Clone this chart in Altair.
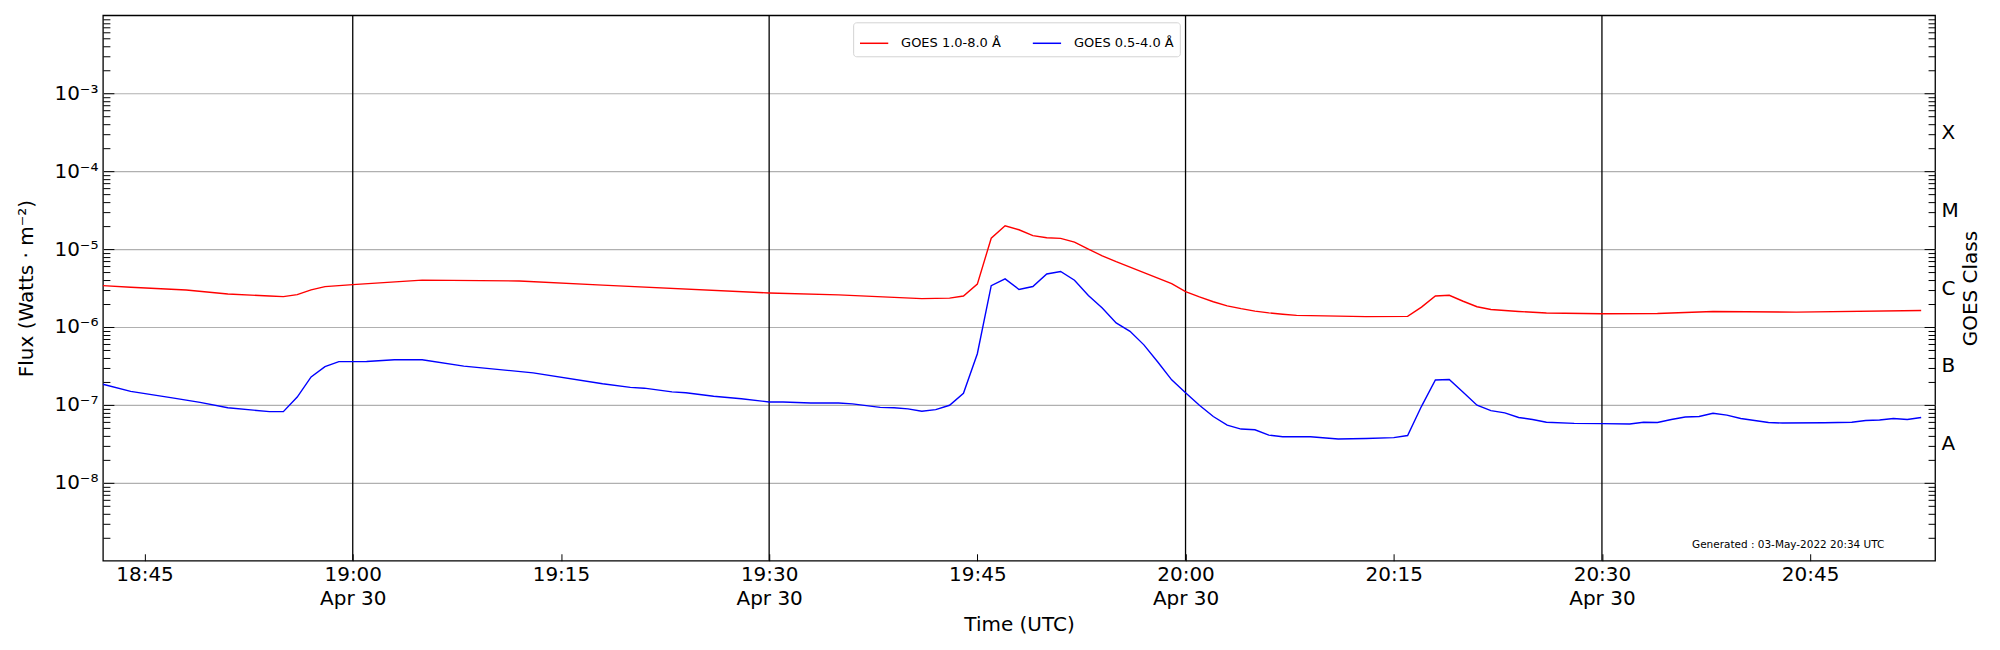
import altair as alt
import pandas as pd

DAY = "2022-04-30"

# GOES 1.0-8.0 Å (long channel)
red_times = ["18:42", "18:44", "18:48", "18:51", "18:54", "18:55", "18:56", "18:57", "18:58",
             "19:00", "19:05", "19:12", "19:18", "19:30", "19:35", "19:41", "19:43", "19:44",
             "19:45", "19:46", "19:47", "19:48", "19:49", "19:50", "19:51", "19:52", "19:53",
             "19:54", "19:55", "19:57", "19:59", "20:00", "20:01", "20:02", "20:03", "20:04",
             "20:05", "20:06", "20:07", "20:08", "20:13", "20:16", "20:17", "20:18", "20:19",
             "20:20", "20:21", "20:22", "20:24", "20:26", "20:30", "20:34", "20:38", "20:44",
             "20:53"]
red_flux = [3.4e-6, 3.24e-6, 2.98e-6, 2.65e-6, 2.5e-6, 2.45e-6, 2.6e-6, 3.0e-6, 3.3e-6,
            3.5e-6, 4.0e-6, 3.9e-6, 3.45e-6, 2.73e-6, 2.58e-6, 2.31e-6, 2.35e-6, 2.5e-6,
            3.55e-6, 1.38e-5, 1.99e-5, 1.77e-5, 1.49e-5, 1.40e-5, 1.37e-5, 1.23e-5, 1.0e-5,
            8.2e-6, 6.9e-6, 5.0e-6, 3.6e-6, 2.84e-6, 2.43e-6, 2.11e-6, 1.87e-6, 1.72e-6,
            1.6e-6, 1.52e-6, 1.46e-6, 1.41e-6, 1.36e-6, 1.37e-6, 1.8e-6, 2.5e-6, 2.55e-6,
            2.14e-6, 1.82e-6, 1.68e-6, 1.58e-6, 1.51e-6, 1.48e-6, 1.49e-6, 1.58e-6, 1.55e-6,
            1.63e-6]

# GOES 0.5-4.0 Å (short channel)
blue_times = ["18:42", "18:44", "18:47", "18:49", "18:51", "18:54", "18:55", "18:56", "18:57",
              "18:58", "18:59", "19:01", "19:03", "19:05", "19:08", "19:13", "19:18", "19:20",
              "19:21", "19:23", "19:24", "19:26", "19:28", "19:30", "19:31", "19:33", "19:35",
              "19:36", "19:38", "19:39", "19:40", "19:41", "19:42", "19:43", "19:44", "19:45",
              "19:46", "19:47", "19:48", "19:49", "19:50", "19:51", "19:52", "19:53", "19:54",
              "19:55", "19:56", "19:57", "19:58", "19:59", "20:00", "20:01", "20:02", "20:03",
              "20:04", "20:05", "20:06", "20:07", "20:09", "20:11", "20:13", "20:15", "20:16",
              "20:17", "20:18", "20:19", "20:20", "20:21", "20:22", "20:23", "20:24", "20:25",
              "20:26", "20:28", "20:30", "20:32", "20:33", "20:34", "20:35", "20:36", "20:37",
              "20:38", "20:39", "20:40", "20:41", "20:42", "20:43", "20:46", "20:48", "20:49",
              "20:50", "20:51", "20:52", "20:53"]
blue_flux = [1.84e-7, 1.49e-7, 1.23e-7, 1.08e-7, 9.2e-8, 8.2e-8, 8.2e-8, 1.26e-7, 2.29e-7,
             3.1e-7, 3.59e-7, 3.6e-7, 3.8e-7, 3.8e-7, 3.15e-7, 2.58e-7, 1.87e-7, 1.68e-7,
             1.64e-7, 1.47e-7, 1.43e-7, 1.29e-7, 1.2e-7, 1.09e-7, 1.09e-7, 1.06e-7, 1.06e-7,
             1.03e-7, 9.3e-8, 9.2e-8, 8.9e-8, 8.3e-8, 8.7e-8, 9.9e-8, 1.41e-7, 4.54e-7,
             3.39e-6, 4.15e-6, 3.03e-6, 3.31e-6, 4.79e-6, 5.16e-6, 3.98e-6, 2.54e-6, 1.75e-6,
             1.13e-6, 8.8e-7, 5.9e-7, 3.56e-7, 2.1e-7, 1.43e-7, 9.9e-8, 7.1e-8, 5.5e-8,
             4.9e-8, 4.8e-8, 4.1e-8, 3.9e-8, 3.9e-8, 3.66e-8, 3.7e-8, 3.8e-8, 4.05e-8,
             9.6e-8, 2.09e-7, 2.12e-7, 1.45e-7, 9.9e-8, 8.45e-8, 7.9e-8, 6.9e-8, 6.5e-8,
             6.0e-8, 5.8e-8, 5.75e-8, 5.7e-8, 6.0e-8, 5.95e-8, 6.5e-8, 7.0e-8, 7.1e-8,
             7.8e-8, 7.4e-8, 6.7e-8, 6.3e-8, 5.95e-8, 5.85e-8, 5.9e-8, 6.0e-8, 6.3e-8,
             6.4e-8, 6.7e-8, 6.5e-8, 6.9e-8]

series_names = ["GOES 1.0-8.0 Å", "GOES 0.5-4.0 Å"]
series_colors = ["red", "blue"]

tick_times = ["18:45", "19:00", "19:15", "19:30", "19:45", "20:00", "20:15", "20:30", "20:45"]
vline_times = ["19:00", "19:30", "20:00", "20:30"]
x_start = (18, 42)
x_end = (20, 54)

flux_exponents = [-8, -7, -6, -5, -4, -3]
minor_multipliers = [2, 3, 4, 5, 6, 7, 8, 9]
minor_exponents = [-9, -8, -7, -6, -5, -4, -3]
goes_classes = ["A", "B", "C", "M", "X"]
goes_exponents = [-7.5, -6.5, -5.5, -4.5, -3.5]

generated_text = "Generated : 03-May-2022 20:34 UTC"

W, H = 1834, 546
FONT = "DejaVu Sans"
XTICK = 7
MAJ, MIN = 11, 7


def iso(t):
    return f"{DAY}T{t}:00Z"


def dt(h, m):
    return alt.DateTime(year=2022, month=4, date=30, hours=h, minutes=m, utc=True)


SUP = {"-": "⁻", "0": "⁰", "1": "¹", "2": "²", "3": "³", "4": "⁴",
       "5": "⁵", "6": "⁶", "7": "⁷", "8": "⁸", "9": "⁹"}
flux_labels = ["10" + "".join(SUP[c] for c in str(e)) for e in flux_exponents]

major_vals = [10.0 ** e for e in flux_exponents]
minor_vals = [k * 10.0 ** e for e in minor_exponents for k in minor_multipliers]

lines_df = pd.concat([
    pd.DataFrame({"time": [iso(t) for t in red_times], "flux": red_flux, "series": series_names[0]}),
    pd.DataFrame({"time": [iso(t) for t in blue_times], "flux": blue_flux, "series": series_names[1]}),
])
major_df = pd.DataFrame({"flux": major_vals})
minor_df = pd.DataFrame({"flux": minor_vals})
goes_df = pd.DataFrame({"flux": [10.0 ** e for e in goes_exponents], "cls": goes_classes})
vlines_df = pd.DataFrame({"time": [iso(t) for t in vline_times]})
gen_df = pd.DataFrame({"txt": [generated_text]})

x_scale = alt.Scale(type="utc", domain=[dt(*x_start), dt(*x_end)])
y_scale = alt.Scale(type="log", domain=[1e-9, 1e-2], nice=False)

x_axis = alt.Axis(
    values=[dt(int(t[:2]), int(t[3:])) for t in tick_times],
    labelExpr="utcminutes(datum.value) % 30 == 0 ? [utcFormat(datum.value, '%H:%M'), utcFormat(datum.value, '%b %d')] : utcFormat(datum.value, '%H:%M')",
    ticks=True, tickSize=XTICK, tickColor="black", tickWidth=1, offset=-XTICK,
    domain=False, grid=False,
    labelFontSize=20, labelPadding=4, labelLineHeight=24, labelFont=FONT, labelColor="black",
    labelOverlap=False, labelFlush=False,
    title="Time (UTC)", titleFontSize=20, titleFontWeight="normal", titleFont=FONT,
    titleColor="black", titleX=W / 2, titleY=64 + XTICK, titleBaseline="middle", titleAlign="center",
)

y_axis = alt.Axis(
    values=major_vals,
    labelExpr="[" + ",".join(f"'{s}'" for s in flux_labels) + f"][round(log(datum.value)/LN10) - ({flux_exponents[0]})]",
    ticks=False, domain=False, grid=True, gridColor="#b0b0b0", gridWidth=1.2,
    labelFontSize=20, labelPadding=5, labelFont=FONT, labelColor="black",
    title="Flux (Watts · m⁻²)", titleFontSize=20, titleFontWeight="normal", titleFont=FONT,
    titleColor="black", titleAngle=270, titleX=-76, titleY=H / 2, titleBaseline="middle",
    titleAlign="center",
)

goes_axis = alt.Axis(
    orient="right",
    values=[10.0 ** e for e in goes_exponents],
    labelExpr="[" + ",".join(f"'{s}'" for s in goes_classes) + "][round(log(datum.value)/LN10 + 7.5)]",
    ticks=False, domain=False, grid=False,
    labelFontSize=20, labelPadding=6, labelFont=FONT, labelColor="black",
    title="GOES Class", titleAngle=270, titleFontSize=20, titleFontWeight="normal", titleFont=FONT,
    titleColor="black", titleX=35, titleY=H / 2, titleBaseline="middle", titleAlign="center",
)


def tick_axis(orient, vals, size):
    return alt.Axis(orient=orient, values=vals, offset=-size, tickSize=size, ticks=True,
                    tickColor="black", tickWidth=1, labels=False, domain=False, grid=False,
                    title=None)


lines = alt.Chart(lines_df).mark_line(strokeWidth=1.4, clip=True).encode(
    x=alt.X("time:T", scale=x_scale, axis=x_axis),
    y=alt.Y("flux:Q", scale=y_scale, axis=y_axis),
    color=alt.Color(
        "series:N",
        scale=alt.Scale(domain=series_names, range=series_colors),
        legend=alt.Legend(
            title=None, orient="none", legendX=751, legendY=7, direction="horizontal",
            symbolType="stroke", symbolSize=800, symbolStrokeWidth=1.5,
            labelFontSize=13, labelFont=FONT, labelColor="black", labelOffset=12,
            columnPadding=28, padding=6, fillColor="white", strokeColor="#d3d3d3",
            cornerRadius=3,
        ),
    ),
    detail="series:N",
)

vlines = alt.Chart(vlines_df).mark_rule(color="black", strokeWidth=1.3).encode(
    x=alt.X("time:T", scale=x_scale, axis=x_axis),
)

tick_layers = [
    alt.Chart(df).mark_rule(opacity=0).encode(
        y=alt.Y("flux:Q", scale=y_scale, axis=tick_axis(orient, vals, size)),
        x=alt.value(0), x2=alt.value(1))
    for df, vals, orient, size in [
        (major_df, major_vals, "left", MAJ), (minor_df, minor_vals, "left", MIN),
        (major_df, major_vals, "right", MAJ), (minor_df, minor_vals, "right", MIN),
    ]
]

gen = alt.Chart(gen_df).mark_text(fontSize=10.5, font=FONT, color="black", align="center",
                                  baseline="middle").encode(
    text="txt:N", x=alt.value(1687), y=alt.value(530))

goes_layer = alt.Chart(goes_df).mark_rule(opacity=0).encode(
    y=alt.Y("flux:Q", scale=y_scale, axis=goes_axis),
    x=alt.value(0), x2=alt.value(1),
)

chart = alt.layer(
    vlines, lines, gen, goes_layer, *tick_layers
).resolve_scale(y="independent").properties(
    width=W, height=H,
    autosize=alt.AutoSizeParams(type="none"),
    padding={"left": 95, "top": 7, "right": 57, "bottom": 80},
).configure(font=FONT).configure_view(stroke="black", strokeWidth=1.3)

chart.save("out.html", embed_options={"renderer": "svg", "actions": False})
